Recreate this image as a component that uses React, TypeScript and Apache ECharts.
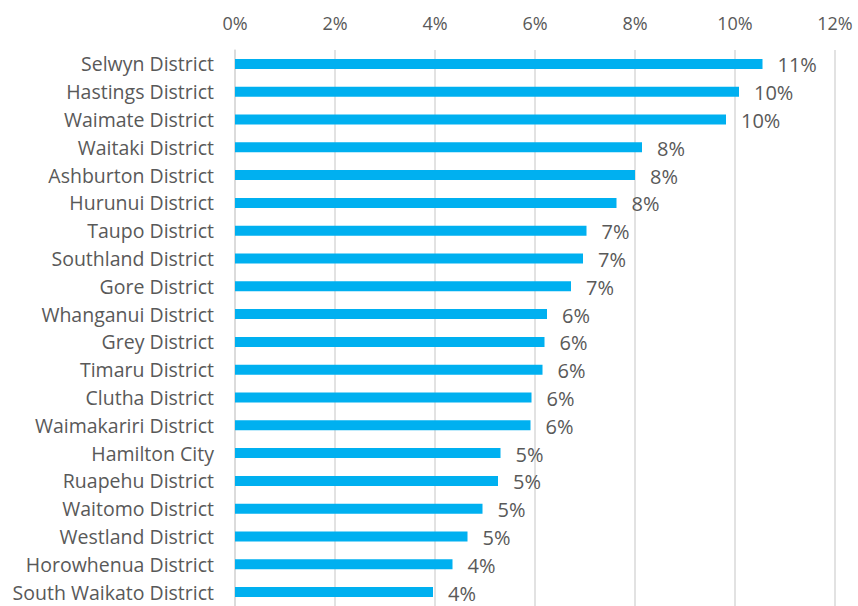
import React, { useEffect, useRef } from "react";
import * as echarts from "echarts";

const categories = [
  "Selwyn District",
  "Hastings District",
  "Waimate District",
  "Waitaki District",
  "Ashburton District",
  "Hurunui District",
  "Taupo District",
  "Southland District",
  "Gore District",
  "Whanganui District",
  "Grey District",
  "Timaru District",
  "Clutha District",
  "Waimakariri District",
  "Hamilton City",
  "Ruapehu District",
  "Waitomo District",
  "Westland District",
  "Horowhenua District",
  "South Waikato District",
];

const values = [
  10.55, 10.08, 9.82, 8.14, 8.0, 7.63, 7.03, 6.96, 6.72, 6.24, 6.19, 6.15, 5.93,
  5.91, 5.31, 5.26, 4.95, 4.65, 4.35, 3.96,
];

const axisMin = 0;
const axisMax = 12;
const axisInterval = 2;

const FONT = "'Open Sans', sans-serif";

export default function App() {
  const ref = useRef<HTMLDivElement>(null);
  useEffect(() => {
    document.body.style.margin = "0";
    const chart = echarts.init(ref.current!, null, { renderer: "svg" });
    chart.setOption({
      animation: false,
      backgroundColor: "#ffffff",
      textStyle: { fontFamily: FONT },
      grid: { left: 235, right: 23, top: 50, bottom: -1, containLabel: false },
      xAxis: {
        type: "value",
        position: "top",
        min: axisMin,
        max: axisMax,
        interval: axisInterval,
        axisLine: { show: false },
        axisTick: { show: false },
        splitLine: { show: true, lineStyle: { color: "#D9D9D9", width: 1.5 } },
        axisLabel: {
          formatter: "{value}%",
          color: "#595959",
          fontSize: 18,
          fontFamily: FONT,
          margin: 18,
        },
      },
      yAxis: {
        type: "category",
        inverse: true,
        data: categories,
        axisLine: { show: true, lineStyle: { color: "#D9D9D9", width: 1.5 } },
        axisTick: { show: false },
        axisLabel: {
          color: "#595959",
          fontSize: 19.5,
          fontFamily: FONT,
          margin: 21,
        },
      },
      series: [
        {
          type: "bar",
          data: values,
          barWidth: 10,
          itemStyle: { color: "#00B0F0" },
          label: {
            show: true,
            position: "right",
            distance: 15,
            offset: [0, 1],
            color: "#595959",
            fontSize: 20,
            fontFamily: FONT,
            formatter: (p: any) => Math.round(p.value) + "%",
          },
        },
      ],
    });
    return () => chart.dispose();
  }, []);
  return (
    <div
      ref={ref}
      style={{ position: "absolute", left: 0, top: 0, width: 858, height: 606 }}
    />
  );
}
